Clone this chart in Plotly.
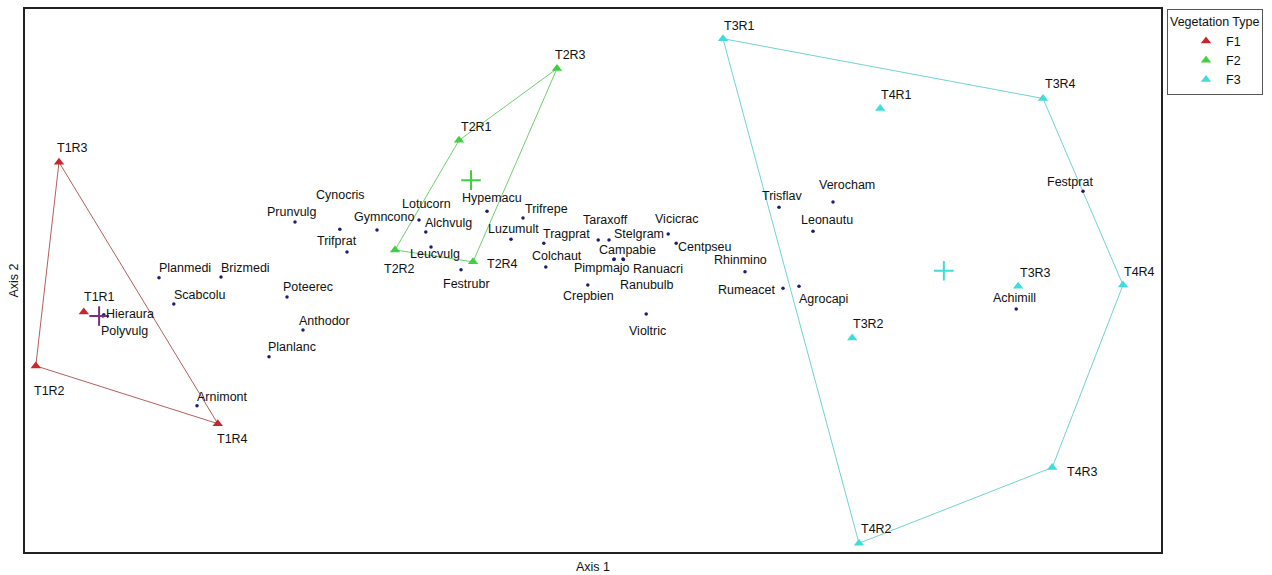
import plotly.graph_objects as go
import numpy as np

# NMS ordination scores: species (Axis 1, Axis 2)
species = ["Planmedi", "Brizmedi", "Scabcolu", "Hieraura", "Polyvulg", "Arnimont",
           "Prunvulg", "Cynocris", "Trifprat", "Gymncono", "Poteerec", "Anthodor",
           "Planlanc", "Lotucorn", "Alchvulg", "Leucvulg", "Festrubr", "Hypemacu",
           "Trifrepe", "Luzumult", "Tragprat", "Colchaut", "Taraxoff", "Stelgram",
           "Vicicrac", "Centpseu", "Campabie", "Pimpmajo", "Ranuacri", "Ranubulb",
           "Crepbien", "Violtric", "Rhinmino", "Rumeacet", "Agrocapi", "Trisflav",
           "Verocham", "Leonautu", "Achimill", "Festprat"]
species_x = [-1.085, -0.930, -1.048, -1.223, -1.225, -0.990,
             -0.745, -0.633, -0.615, -0.540, -0.765, -0.725,
             -0.810, -0.435, -0.418, -0.405, -0.330, -0.265,
             -0.175, -0.205, -0.123, -0.118, 0.013, 0.040,
             0.188, 0.208, 0.053, 0.052, 0.075, 0.076,
             -0.013, 0.133, 0.380, 0.475, 0.515, 0.465,
             0.600, 0.550, 1.058, 1.225]
species_y = [0.008, 0.010, -0.058, -0.085, -0.088, -0.313,
             0.148, 0.130, 0.073, 0.128, -0.040, -0.123,
             -0.190, 0.153, 0.123, 0.085, 0.028, 0.175,
             0.158, 0.105, 0.095, 0.035, 0.103, 0.103,
             0.118, 0.095, 0.055, 0.054, 0.055, 0.054,
             -0.010, -0.083, 0.023, -0.018, -0.013, 0.185,
             0.198, 0.125, -0.070, 0.225]

# Sample plots and their vegetation type
plots = ["T1R1", "T1R2", "T1R3", "T1R4",
         "T2R1", "T2R2", "T2R3", "T2R4",
         "T3R1", "T3R2", "T3R3", "T3R4",
         "T4R1", "T4R2", "T4R3", "T4R4"]
plot_x = [-1.273, -1.393, -1.335, -0.938,
          -0.335, -0.495, -0.090, -0.300,
          0.325, 0.648, 1.063, 1.125,
          0.718, 0.665, 1.148, 1.325]
plot_y = [-0.078, -0.213, 0.298, -0.358,
          0.353, 0.078, 0.533, 0.048,
          0.608, -0.143, -0.013, 0.458,
          0.433, -0.658, -0.468, -0.010]
plot_group = ["F1", "F1", "F1", "F1",
              "F2", "F2", "F2", "F2",
              "F3", "F3", "F3", "F3",
              "F3", "F3", "F3", "F3"]
groups = ["F1", "F2", "F3"]

# Styling
FONT = "Liberation Sans, Arial, sans-serif"
group_color = {"F1": "#c8262a", "F2": "#3fcf3f", "F3": "#3fdcdc"}
hull_color = {"F1": "#b2605c", "F2": "#6fcf6f", "F3": "#6fd3d3"}
cross_color = {"F1": "#7a2c86", "F2": "#3fcf3f", "F3": "#3fdcdc"}
dot_color = "#1c1c74"

# Label placement: pixel offset (dx, dy downward) of label centre from its point
label_offset = {
    "T1R1": (16, -15), "T1R2": (14, 25), "T1R3": (13, -14), "T1R4": (15, 15),
    "T2R1": (17, -13), "T2R2": (4, 19), "T2R3": (13, -14), "T2R4": (29, 2),
    "T3R1": (16, -13), "T3R2": (16, -14), "T3R3": (17, -13), "T3R4": (17, -14),
    "T4R1": (16, -13), "T4R2": (17, -14), "T4R3": (30, 4), "T4R4": (16, -13),
    "Planmedi": (26, -10), "Brizmedi": (24, -9), "Scabcolu": (26, -9),
    "Hieraura": (26, -1), "Polyvulg": (21, 15), "Arnimont": (25, -9),
    "Prunvulg": (-4, -10), "Cynocris": (1, -34), "Trifprat": (-10, -11),
    "Gymncono": (7, -13), "Poteerec": (21, -10), "Anthodor": (21, -9),
    "Planlanc": (23, -10), "Lotucorn": (7, -16), "Alchvulg": (23, -9),
    "Leucvulg": (4, 7), "Festrubr": (5, 14), "Hypemacu": (5, -13),
    "Trifrepe": (23, -9), "Luzumult": (2, -10), "Tragprat": (23, -9),
    "Colchaut": (11, -11), "Taraxoff": (7, -20), "Stelgram": (30, -6),
    "Vicicrac": (9, -15), "Centpseu": (29, 4), "Campabie": (13, -9),
    "Pimpmajo": (-12, 9), "Ranuacri": (35, 10), "Ranubulb": (24, 26),
    "Crepbien": (1, 11), "Violtric": (1, 17), "Rhinmino": (-5, -12),
    "Rumeacet": (-37, 2), "Agrocapi": (24, 13), "Trisflav": (3, -11),
    "Verocham": (14, -17), "Leonautu": (14, -11), "Achimill": (-2, -11),
    "Festprat": (-13, -9),
}


def convex_hull(pts):
    pts = sorted(set(pts))
    if len(pts) < 3:
        return pts

    def cross(o, a, b):
        return (a[0] - o[0]) * (b[1] - o[1]) - (a[1] - o[1]) * (b[0] - o[0])

    lower, upper = [], []
    for p in pts:
        while len(lower) >= 2 and cross(lower[-2], lower[-1], p) <= 0:
            lower.pop()
        lower.append(p)
    for p in reversed(pts):
        while len(upper) >= 2 and cross(upper[-2], upper[-1], p) <= 0:
            upper.pop()
        upper.append(p)
    return lower[:-1] + upper[:-1]


fig = go.Figure()

# Group convex hulls
for g in groups:
    pts = [(x, y) for x, y, gg in zip(plot_x, plot_y, plot_group) if gg == g]
    hull = convex_hull(pts)
    hull.append(hull[0])
    fig.add_trace(go.Scatter(
        x=[p[0] for p in hull], y=[p[1] for p in hull], mode="lines",
        line=dict(color=hull_color[g], width=1), hoverinfo="skip", showlegend=False))

# Species points
fig.add_trace(go.Scatter(
    x=species_x, y=species_y, mode="markers", text=species,
    marker=dict(color=dot_color, size=3.5), showlegend=False, hoverinfo="text"))

# Plot points by vegetation type
for g in groups:
    xs = [x for x, gg in zip(plot_x, plot_group) if gg == g]
    ys = [y for y, gg in zip(plot_y, plot_group) if gg == g]
    names = [n for n, gg in zip(plots, plot_group) if gg == g]
    fig.add_trace(go.Scatter(
        x=xs, y=ys, mode="markers", name=g, text=names,
        marker=dict(symbol="triangle-up", color=group_color[g], size=9, line=dict(width=0)),
        hoverinfo="text"))

# Group centroids
for g in groups:
    xs = [x for x, gg in zip(plot_x, plot_group) if gg == g]
    ys = [y for y, gg in zip(plot_y, plot_group) if gg == g]
    fig.add_trace(go.Scatter(
        x=[float(np.mean(xs))], y=[float(np.mean(ys))], mode="markers",
        marker=dict(symbol="cross-thin", size=14, line=dict(color=cross_color[g], width=2)),
        showlegend=False, hoverinfo="skip"))

# Point labels
annotations = []
for name, x, y in list(zip(plots, plot_x, plot_y)) + list(zip(species, species_x, species_y)):
    dx, dy = label_offset[name]
    annotations.append(dict(
        x=x, y=y, xref="x", yref="y", text=name, showarrow=False,
        xanchor="center", yanchor="middle", xshift=dx, yshift=-dy,
        font=dict(family=FONT, size=12.5, color="#111111")))

# Axis titles
annotations.append(dict(x=0.5, y=0, xref="paper", yref="paper", text="Axis 1",
                        showarrow=False, xanchor="center", yanchor="top", yshift=-6,
                        font=dict(family=FONT, size=12.5, color="#111111")))
annotations.append(dict(x=0, y=0.5, xref="paper", yref="paper", text="Axis 2",
                        showarrow=False, xanchor="center", yanchor="middle", xshift=-12,
                        textangle=-90, font=dict(family=FONT, size=12.5, color="#111111")))

axis_common = dict(showgrid=False, zeroline=False, showticklabels=False, ticks="",
                   showline=True, mirror=True, linecolor="#222222", linewidth=2)

fig.update_layout(
    width=1272, height=575,
    margin=dict(l=25, r=111, t=7, b=23),
    paper_bgcolor="white", plot_bgcolor="white",
    xaxis=dict(range=[-1.42, 1.42], **axis_common),
    yaxis=dict(range=[-0.68, 0.6825], **axis_common),
    annotations=annotations,
    legend=dict(
        x=1.0053, y=1.0, xanchor="left", yanchor="top",
        bordercolor="#555555", borderwidth=1, bgcolor="white",
        title=dict(text="Vegetation Type", side="top", font=dict(family=FONT, size=12.5, color="#111111")),
        font=dict(family=FONT, size=12.5, color="#111111"),
        indentation=18, tracegroupgap=0, itemsizing="trace"),
    font=dict(family=FONT),
)

fig.write_html("out.html")
